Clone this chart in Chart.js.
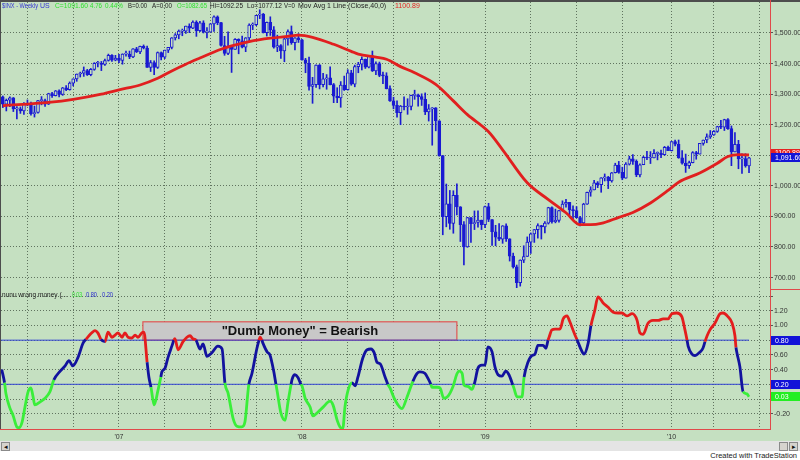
<!DOCTYPE html>
<html>
<head>
<meta charset="utf-8">
<title>$INX Weekly - Dumb Money</title>
<script src="https://cdn.jsdelivr.net/npm/chart.js@4.4.1/dist/chart.umd.min.js"></script>
<style>
  html, body { margin: 0; padding: 0; background: #fff; }
  #wrap { position: relative; width: 800px; height: 460px; overflow: hidden; background: #fff;
          font-family: Arial, "Liberation Sans", sans-serif; }
  #pane-bg { position: absolute; left: 0; top: 0; width: 800px; height: 441px; background: #c5e0c1; }
  #price-canvas { position: absolute; left: 0; top: 0; }
  #osc-canvas { position: absolute; left: 0; top: 290px; }
  #scroll { position: absolute; left: 0; top: 441px; width: 800px; height: 10px; background: #e4e4e4; }
  .sbtn { position: absolute; top: 1px; width: 7px; height: 7px; background: #d6d3ce; border: 1px solid #8a8a8a;
          font-size: 7px; line-height: 7px; text-align: center; color: #111; }
  #credit { position: absolute; right: 3px; top: 451px; font-size: 7.5px; color: #222; }
</style>
</head>
<body>
<div id="wrap">
  <div id="pane-bg"></div>
  <canvas id="price-canvas" width="800" height="290"></canvas>
  <canvas id="osc-canvas" width="800" height="150"></canvas>
  <div id="scroll">
    <div class="sbtn" style="left:1px">&#9666;</div>
    <div class="sbtn" style="left:779px"></div>
    <div class="sbtn" style="left:789px">&#9656;</div>
  </div>
  <div id="credit">Created with TradeStation</div>
</div>
<script>
/* ─── Weekly $INX bars (week 0 = mid May 2006) ───────── */
const opens = [
  1291,1267,1280,1288,1252,1252,1245,1270,1265,1236,1240,1279,1279,1267,1302,1295,1311,1299,1321,1315,1336,1350,1366,1369,1377,1364,1381,1401,1401,1397,1410,1427,1411,
  1418,1410,1431,1431,1422,1448,1438,1456,1451,1387,1403,1387,1436,1421,1444,1453,1484,1494,1506,1506,1523,1516,1536,1508,1533,1503,1503,1530,1553,1534,1459,1433,1454,1446,1479,1474,1454,1484,1526,1527,1558,1562,1501,1535,1510,1454,1459,1441,1481,1505,1468,1484,
  1478,1412,1401,1325,1331,1395,1331,1350,1353,1331,1293,1288,1330,1315,1370,1333,1390,1398,1414,1388,1425,1376,1400,1361,1360,1318,1278,1263,1239,1261,1258,1260,1296,1298,1292,1283,1242,1252,1255,1213,1099,899,941,877,969,931,873,800,896,876,880,888,
  873,932,890,850,832,826,869,827,770,735,683,757,769,816,843,857,870,866,878,929,883,887,919,940,946,921,919,896,879,940,979,987,1010,1004,1026,1029,1016,1043,1068,1044,1025,1071,1088,1080,1036,1069,1093,1091,1091,1106,1106,1102,1126,
  1115,1145,1136,1092,1074,1066,1076,1109,1104,1139,1150,1160,1167,1178,1194,1192,1217,1187,1111,1136,1088,1089,1065
];
const highs = [
  1294,1284,1291,1289,1259,1258,1272,1281,1274,1261,1280,1292,1284,1303,1306,1312,1314,1322,1328,1340,1350,1366,1372,1389,1381,1384,1403,1407,1407,1415,1431,1429,1427,
  1430,1432,1441,1441,1449,1453,1457,1461,1457,1410,1409,1438,1438,1444,1453,1485,1498,1510,1513,1523,1530,1540,1540,1538,1540,1518,1531,1556,1556,1535,1489,1504,1456,1482,1481,1490,1485,1530,1533,1558,1576,1564,1536,1553,1521,1493,1462,1488,1510,1523,1485,1498,
  1479,1417,1421,1355,1396,1397,1368,1364,1389,1335,1321,1341,1359,1380,1378,1395,1404,1422,1415,1426,1441,1406,1405,1372,1370,1327,1290,1278,1263,1291,1285,1297,1313,1300,1301,1304,1266,1256,1256,1213,1099,1006,985,984,1007,932,883,897,896,918,918,888,
  934,943,890,871,877,870,876,827,780,741,758,804,833,846,857,876,871,883,930,931,924,920,951,956,946,935,932,900,943,980,997,1018,1014,1027,1039,1031,1044,1074,1080,1061,1076,1097,1102,1085,1072,1097,1113,1112,1119,1111,1117,1129,1130,
  1145,1150,1150,1115,1104,1081,1112,1113,1139,1150,1170,1181,1181,1195,1214,1218,1220,1196,1174,1149,1105,1105,1093
];
const lows = [
  1256,1245,1259,1243,1219,1237,1234,1262,1231,1225,1238,1265,1260,1266,1289,1294,1291,1296,1311,1313,1327,1342,1356,1358,1361,1360,1378,1389,1377,1394,1408,1407,1409,
  1403,1398,1424,1416,1419,1436,1432,1448,1387,1374,1364,1384,1412,1416,1436,1448,1477,1481,1491,1499,1501,1514,1489,1504,1500,1484,1503,1505,1527,1457,1427,1429,1371,1446,1432,1451,1439,1471,1511,1524,1547,1500,1490,1492,1450,1439,1417,1406,1460,1463,1445,1469,
  1411,1370,1313,1270,1322,1317,1324,1316,1330,1272,1272,1257,1312,1313,1329,1324,1370,1379,1384,1386,1374,1364,1357,1334,1317,1276,1252,1225,1200,1248,1234,1248,1283,1261,1263,1233,1212,1133,1180,1097,840,866,858,845,905,818,741,799,815,857,865,857,
  863,883,805,804,821,812,818,754,731,667,672,749,769,779,815,829,826,846,875,878,879,881,917,930,903,888,895,869,875,939,966,987,994,979,1016,991,1012,1042,1041,1020,1025,1068,1070,1030,1029,1069,1086,1073,1091,1085,1092,1100,1115,
  1114,1131,1090,1071,1044,1057,1075,1087,1104,1133,1141,1155,1165,1175,1187,1181,1185,1066,1111,1056,1041,1061,1043
];
const closes = [
  1267,1280,1288,1252,1252,1245,1270,1265,1236,1240,1279,1279,1267,1302,1295,1311,1299,1321,1315,1336,1350,1366,1369,1377,1364,1381,1401,1401,1397,1410,1427,1411,1418,
  1410,1431,1431,1422,1448,1438,1456,1451,1387,1403,1387,1436,1421,1444,1453,1484,1494,1506,1506,1523,1516,1536,1508,1533,1503,1503,1530,1553,1534,1459,1433,1454,1446,1479,1474,1454,1484,1526,1527,1558,1562,1501,1535,1510,1454,1459,1441,1481,1505,1468,1484,1478,
  1412,1401,1325,1331,1395,1331,1350,1353,1331,1293,1288,1330,1315,1370,1333,1390,1398,1414,1388,1425,1376,1400,1361,1360,1318,1278,1263,1239,1261,1258,1260,1296,1298,1292,1283,1242,1252,1255,1213,1099,899,941,877,969,931,873,800,896,876,880,888,873,
  932,890,850,832,826,869,827,770,735,683,757,769,816,843,857,870,866,878,929,883,887,919,940,946,921,919,896,879,940,979,987,1010,1004,1026,1029,1016,1043,1068,1044,1025,1071,1088,1080,1036,1069,1093,1091,1091,1106,1106,1102,1126,1115,
  1145,1136,1092,1074,1066,1076,1109,1104,1139,1150,1160,1167,1178,1194,1192,1217,1187,1111,1136,1088,1089,1065,1091.6
];

/* ─── 40 week moving average (read at sample weeks) ─── */
const maWeeks  = [0,13,20,28,33,39,44,48,52,56,62,65,70,76,81,84,88,94,99,101,106,109,113,117,123,128,132,138,142,149,155,160,164,167,170,175,179,184,189,192,198,203,206,209,212];
const maValues = [1262,1273,1283,1300,1314,1330,1352,1376,1398,1418,1447,1458,1472,1483,1489,1493,1486,1463,1440,1431,1421,1414,1390,1370,1332,1278,1233,1177,1118,1010,955,912,873,873,877,897,913,944,985,1012,1042,1074,1096,1102,1101];
const maLast = 1100.89;

/* ─── "nunu wrong money" oscillator ─────────────────── */
const oscWeeks = [
  -0.3,0.5,0.9,2.0,2.9,4.0,4.6,5.5,6.3,7.2, 8.0,8.6,9.1,10.6,12.0,13.4,14.5,16.3,17.7,18.8,
  19.9,21.4,22.8,23.6,25.3,26.2,27.0,27.9,29.0,29.9, 31.0,31.9,32.7,33.9,34.7,35.6,36.7,37.6,38.4,39.5,
  40.1,41.0,41.5,42.1,43.0,44.1,44.9,45.2,46.1,46.9, 48.1,48.6,48.9,49.8,51.2,52.3,53.2,54.0,54.9,56.0,
  56.9,58.0,59.4,61.1,62.3,63.1,64.0,65.4,66.5,67.9, 68.8,69.7,69.9,70.8,72.2,72.8,73.1,73.6,73.9,75.1,
  75.9,77.0,77.6,77.9,79.0,80.2,81.0,81.9,82.2,83.0, 83.9,84.7,85.0,85.9,87.3,88.1,89.5,91.0,93.0,93.8,
  95.0,95.8,96.6,97.2,98.1,99.2,100.1,100.9,102.3,103.5, 104.6,105.5,106.3,107.2,108.6,109.4,110.0,111.4,113.4,114.8,
  116.5,117.7,118.5,119.9,120.8,121.6,121.9,123.4,124.2,125.3, 126.5,127.9,129.0,129.6,130.5,131.0,132.2,133.3,133.9,134.1,
  135.0,136.1,137.0,137.8,139.0,139.8,140.7,141.8,142.9,143.8, 144.9,145.2,146.1,147.5,148.1,149.2,150.3,151.2,152.0,153.5,
  154.3,154.9,155.2,156.0,156.9,158.3,159.2,160.3,161.1,162.3, 163.1,163.7,164.3,165.1,166.3,167.1,168.2,169.1,170.5,171.9,
  173.4,174.8,175.9,177.3,178.8,180.2,181.0,181.9,183.3,184.7, 186.2,187.6,189.0,190.1,191.5,192.9,193.8,194.4,194.7,195.8,
  196.6,198.1,198.9,199.5,200.1,200.9,202.3,203.8,204.6,206.0, 207.2,208.0,208.3,208.6,209.4,210.3,211.4,212.0
];
const oscValues = [
  0.40,0.22,0.07,-0.12,-0.22,-0.38,-0.39,-0.31,-0.11,0.10, 0.15,0.03,-0.08,-0.04,0.01,0.10,0.26,0.38,0.45,0.52,
  0.45,0.57,0.76,0.81,0.90,0.93,0.90,0.81,0.78,0.91, 0.84,0.87,0.90,0.84,0.90,0.84,0.83,0.87,0.84,0.90,
  0.91,0.50,0.30,0.16,-0.08,0.12,0.30,0.37,0.42,0.56, 0.73,0.80,0.82,0.67,0.78,0.84,0.86,0.82,0.80,0.68,
  0.75,0.58,0.63,0.72,0.68,0.22,0.08,-0.26,-0.37,-0.38, -0.31,0.12,0.20,0.35,0.69,0.80,0.84,0.80,0.76,0.64,
  0.60,0.37,0.20,0.12,-0.19,-0.29,-0.05,0.20,0.27,0.33, 0.29,0.20,0.18,0.01,-0.11,-0.23,-0.18,-0.11,-0.03,-0.08,
  -0.29,-0.38,-0.40,-0.11,0.12,0.22,0.18,0.30,0.56,0.67, 0.68,0.63,0.50,0.48,0.30,0.20,0.15,-0.01,-0.13,0.02,
  0.24,0.35,0.37,0.35,0.28,0.20,0.16,0.16,0.15,0.01, 0.04,0.17,0.34,0.38,0.35,0.19,0.17,0.13,0.20,0.23,
  0.42,0.46,0.46,0.71,0.64,0.44,0.33,0.31,0.38,0.33, 0.19,0.15,0.03,0.03,0.30,0.50,0.59,0.61,0.73,0.73,
  0.69,0.80,0.84,0.94,0.95,0.95,1.09,1.13,1.05,0.90, 0.81,0.74,0.67,0.61,0.76,1.00,1.21,1.39,1.31,1.25,
  1.18,1.17,1.17,1.13,1.16,1.07,0.90,0.88,1.03,1.07, 1.07,1.09,1.09,1.16,1.17,1.12,0.94,0.80,0.72,0.61,
  0.59,0.64,0.69,0.78,0.86,0.94,1.03,1.16,1.17,1.12, 1.03,0.86,0.70,0.62,0.44,0.10,0.07,0.03
];
// colour of the segment ending at each point: r = red, b = blue, g = green
const oscZones =
  'bbgggggggg' + 'gggggggbbb' + 'bbbbrrrrbr' + 'rrrrrrrrrr' + 'rrbbgggbbb' + 'bbrrrrrrrb' +
  'bbbbbbgggg' + 'gggbbbrrbb' + 'bbbgggggbb' + 'bbgggggggg' + 'ggggggbbbb' + 'bbbbbbgggg' +
  'gbbbbbgggg' + 'gggggggggb' + 'bbbbbbbbbb' + 'bggggbbbbb' + 'bbrrrrrrrr' + 'rbbbbbrrrr' +
  'rrrrrrrrrr' + 'rrrrrrrrbb' + 'bbbbrrrrrr' + 'rrrbbbgg';
const levelHigh = 0.80;
const levelLow  = 0.20;

/* ─── Axes ───────────────────────────────────────────── */
const gridWeeks  = [7,20,33,46,59,72,85,98,111,124,137,150,163,176,190,202,215];
const yearWeeks  = [33, 85, 137, 190];
const yearLabels = ["'07", "'08", "'09", "'10"];
const priceTicks = [700, 800, 900, 1000, 1100, 1200, 1300, 1400, 1500];
const oscTicks   = [-0.2, 0, 0.2, 0.4, 0.6, 0.8, 1.0, 1.2, 1.4];
const oscLabelled = [-0.2, 0.4, 0.6, 1.0, 1.2];

/* note box drawn on the lower pane */
const noteText  = '"Dumb Money" = Bearish';
const noteStart = 39.8, noteEnd = 129.0, noteLow = 0.80, noteHigh = 1.05;

/* ─── Styles ─────────────────────────────────────────── */
const BG     = '#c5e0c1';
const CANDLE = '#1a1ad2';
const GRID   = 'rgba(70,88,70,0.8)';
const FRAME  = '#e04a4a';
const ZONE   = { r: '#e41d1d', b: '#12129e', g: '#3aee3a' };
const FONT   = 'Arial, "Liberation Sans", sans-serif';
const X_MIN = -0.51, X_MAX = 217.96;
const lastWeek = closes.length - 1;

Chart.defaults.font.family = FONT;
Chart.defaults.font.size = 7;

function fmtPrice(v) {
  const [a, b] = v.toFixed(2).split('.');
  return a.replace(/\B(?=(\d{3})+(?!\d))/g, ',') + '.' + b;
}

function tagBox(ctx, left, yc, fill, text) {
  ctx.fillStyle = fill;
  ctx.fillRect(left, Math.round(yc - 4.5), 29, 9);
  ctx.fillStyle = '#fff';
  ctx.font = '7px ' + FONT;
  ctx.textAlign = 'left';
  ctx.textBaseline = 'middle';
  ctx.fillText(text, left + 4, yc + 0.5);
}

// [text, left x, max width, colour]
function drawPieces(ctx, pieces, y) {
  ctx.font = '7px ' + FONT;
  ctx.textAlign = 'left';
  ctx.textBaseline = 'middle';
  pieces.forEach(([txt, x, w, col]) => { ctx.fillStyle = col; ctx.fillText(txt, x, y, w); });
}

const xAxis = (labels) => ({
  type: 'linear', min: X_MIN, max: X_MAX, offset: false,
  grid: { color: GRID, offset: false, drawTicks: false },
  border: { display: false, dash: [1, 2] },
  ticks: labels
    ? { color: '#333', padding: 4, maxRotation: 0, autoSkip: false,
        callback: v => { const k = yearWeeks.indexOf(v); return k < 0 ? '' : yearLabels[k]; } }
    : { display: false },
  afterBuildTicks: a => { a.ticks = gridWeeks.map(v => ({ value: v })); },
  afterFit: a => { a.height = labels ? 11 : 0; a.paddingLeft = 0; a.paddingRight = 0; }
});

/* ─── Upper pane: candles + moving average ───────────── */
const priceDecor = {
  id: 'priceDecor',
  afterDraw(chart) {
    const { ctx, chartArea: ca, scales: { y } } = chart;
    ctx.save();
    ctx.fillStyle = '#4d4d4d';
    ctx.fillRect(0, 0, chart.width, 2);
    ctx.fillRect(0, 0, 1, chart.height);
    ctx.strokeStyle = FRAME;
    ctx.lineWidth = 1;
    ctx.beginPath();
    ctx.moveTo(ca.right + 0.5, 0); ctx.lineTo(ca.right + 0.5, chart.height);
    ctx.moveTo(ca.right, chart.height - 0.5); ctx.lineTo(chart.width, chart.height - 0.5);
    ctx.stroke();

    tagBox(ctx, ca.right + 1, y.getPixelForValue(maLast) - 2, '#e52222', maLast.toFixed(2));
    tagBox(ctx, ca.right + 1, y.getPixelForValue(closes[lastWeek]), '#1414d6', fmtPrice(closes[lastWeek]));

    drawPieces(ctx, [
      ['$INX - Weekly', 2, 36, '#3434d4'], ['US', 40, 10, '#3434d4'],
      ['C=1091.60', 55, 33, '#2fe02f'], ['4.76', 90, 12, '#2fe02f'], ['0.44%', 105, 18, '#2fe02f'],
      ['B=0.00', 128, 19, '#222'], ['A=0.00', 152, 20, '#222'], ['O=1082.65', 177, 30, '#2fe02f'],
      ['Hi=1092.25', 210, 33, '#222'], ['Lo=1077.12', 247, 35, '#222'], ['V=0', 284, 11, '#222'],
      ['Mov Avg 1 Line (Close,40,0)', 298, 90, '#222'], ['1100.89', 395, 25, '#e52222']
    ], 6.5);
    ctx.restore();
  }
};

new Chart(document.getElementById('price-canvas'), {
  type: 'bar',
  data: {
    datasets: [
      {
        type: 'line',
        data: maWeeks.map((w, k) => ({ x: w, y: maValues[k] })),
        borderColor: '#e11f1f', borderWidth: 2.8, pointRadius: 0,
        cubicInterpolationMode: 'monotone', order: 1
      },
      {
        data: closes.map((c, i) => ({ x: i, y: [opens[i], c] })),
        backgroundColor: closes.map((c, i) => c >= opens[i] ? BG : CANDLE),
        borderColor: CANDLE, borderWidth: 1, borderSkipped: false,
        barThickness: 3, minBarLength: 1, grouped: false, order: 2
      },
      {
        data: highs.map((h, i) => ({ x: i, y: [lows[i], h] })),
        backgroundColor: CANDLE, barThickness: 1, grouped: false, order: 3
      }
    ]
  },
  options: {
    responsive: false, animation: false, events: [],
    layout: { padding: { left: 1, top: 2, right: 0, bottom: 1 }, autoPadding: false },
    plugins: { legend: { display: false }, tooltip: { enabled: false } },
    scales: {
      x: xAxis(false),
      y: {
        position: 'right', min: 662.6, max: 1601.4,
        grid: { color: GRID, tickColor: '#555', tickLength: 3 },
        border: { display: false, dash: [1, 2] },
        ticks: { color: '#333', padding: 1, autoSkip: false,
                 callback: v => v === 1100 ? '' : fmtPrice(v) },
        afterBuildTicks: a => { a.ticks = priceTicks.map(v => ({ value: v })); },
        afterFit: a => { a.width = 30; a.paddingTop = 0; a.paddingBottom = 0; }
      }
    }
  },
  plugins: [priceDecor]
});

/* ─── Lower pane: oscillator ─────────────────────────── */
const oscDecor = {
  id: 'oscDecor',
  beforeDatasetsDraw(chart) {
    const { ctx, scales: { x, y } } = chart;
    const l = x.getPixelForValue(noteStart), r = x.getPixelForValue(noteEnd);
    const t = y.getPixelForValue(noteHigh), b = y.getPixelForValue(noteLow);
    ctx.save();
    ctx.fillStyle = '#c8c8c8';
    ctx.fillRect(l, t, r - l, b - t);
    ctx.strokeStyle = '#e05555';
    ctx.lineWidth = 1.2;
    ctx.strokeRect(l, t, r - l, b - t);
    ctx.fillStyle = '#111';
    ctx.font = 'bold 13px ' + FONT;
    ctx.textAlign = 'center';
    ctx.textBaseline = 'middle';
    ctx.fillText(noteText, (l + r) / 2, (t + b) / 2 + 0.5);
    ctx.restore();
  },
  afterDraw(chart) {
    const { ctx, chartArea: ca, scales: { y } } = chart;
    ctx.save();
    ctx.fillStyle = '#4d4d4d';
    ctx.fillRect(0, 0, 1, ca.bottom);
    ctx.strokeStyle = FRAME;
    ctx.lineWidth = 1;
    ctx.beginPath();
    ctx.moveTo(ca.right + 0.5, 0); ctx.lineTo(ca.right + 0.5, ca.bottom + 1);
    ctx.moveTo(0, ca.bottom + 0.5); ctx.lineTo(ca.right, ca.bottom + 0.5);
    ctx.stroke();

    tagBox(ctx, ca.right + 1, y.getPixelForValue(levelHigh), '#1212d8', levelHigh.toFixed(2));
    tagBox(ctx, ca.right + 1, y.getPixelForValue(levelLow), '#1212d8', levelLow.toFixed(2));
    const last = oscValues[oscValues.length - 1];
    tagBox(ctx, ca.right + 1, y.getPixelForValue(last), '#22ee22', last.toFixed(2));

    drawPieces(ctx, [
      ['nunu wrong money (...', 2, 65, '#222'], ['0.03', 72, 10, '#2fe02f'],
      ['0.80', 86, 11, '#2a2ad0'], ['0.20', 102, 11, '#2a2ad0']
    ], 5);
    ctx.restore();
  }
};

const levelLine = v => ({
  data: [{ x: X_MIN, y: v }, { x: lastWeek, y: v }],
  borderColor: '#3446d4', borderWidth: 1, pointRadius: 0, order: 2
});

new Chart(document.getElementById('osc-canvas'), {
  type: 'line',
  data: {
    datasets: [
      {
        data: oscWeeks.map((w, k) => ({ x: w, y: oscValues[k] })),
        borderColor: ZONE.b, borderWidth: 2.8, pointRadius: 0,
        cubicInterpolationMode: 'monotone', order: 1,
        segment: { borderColor: c => ZONE[oscZones[c.p1DataIndex]] }
      },
      levelLine(levelHigh),
      levelLine(levelLow)
    ]
  },
  options: {
    responsive: false, animation: false, events: [],
    layout: { padding: { left: 1, top: 1, right: 0, bottom: 0 }, autoPadding: false },
    plugins: { legend: { display: false }, tooltip: { enabled: false } },
    scales: {
      x: xAxis(true),
      y: {
        position: 'right', min: -0.408, max: 1.469,
        grid: { color: GRID, tickColor: '#555', tickLength: 3 },
        border: { display: false, dash: [1, 2] },
        ticks: { color: '#333', padding: 1, autoSkip: false,
                 callback: v => oscLabelled.some(t => Math.abs(t - v) < 1e-6) ? v.toFixed(2) : '' },
        afterBuildTicks: a => { a.ticks = oscTicks.map(v => ({ value: v })); },
        afterFit: a => { a.width = 30; a.paddingTop = 0; a.paddingBottom = 0; }
      }
    }
  },
  plugins: [oscDecor]
});
</script>
</body>
</html>
